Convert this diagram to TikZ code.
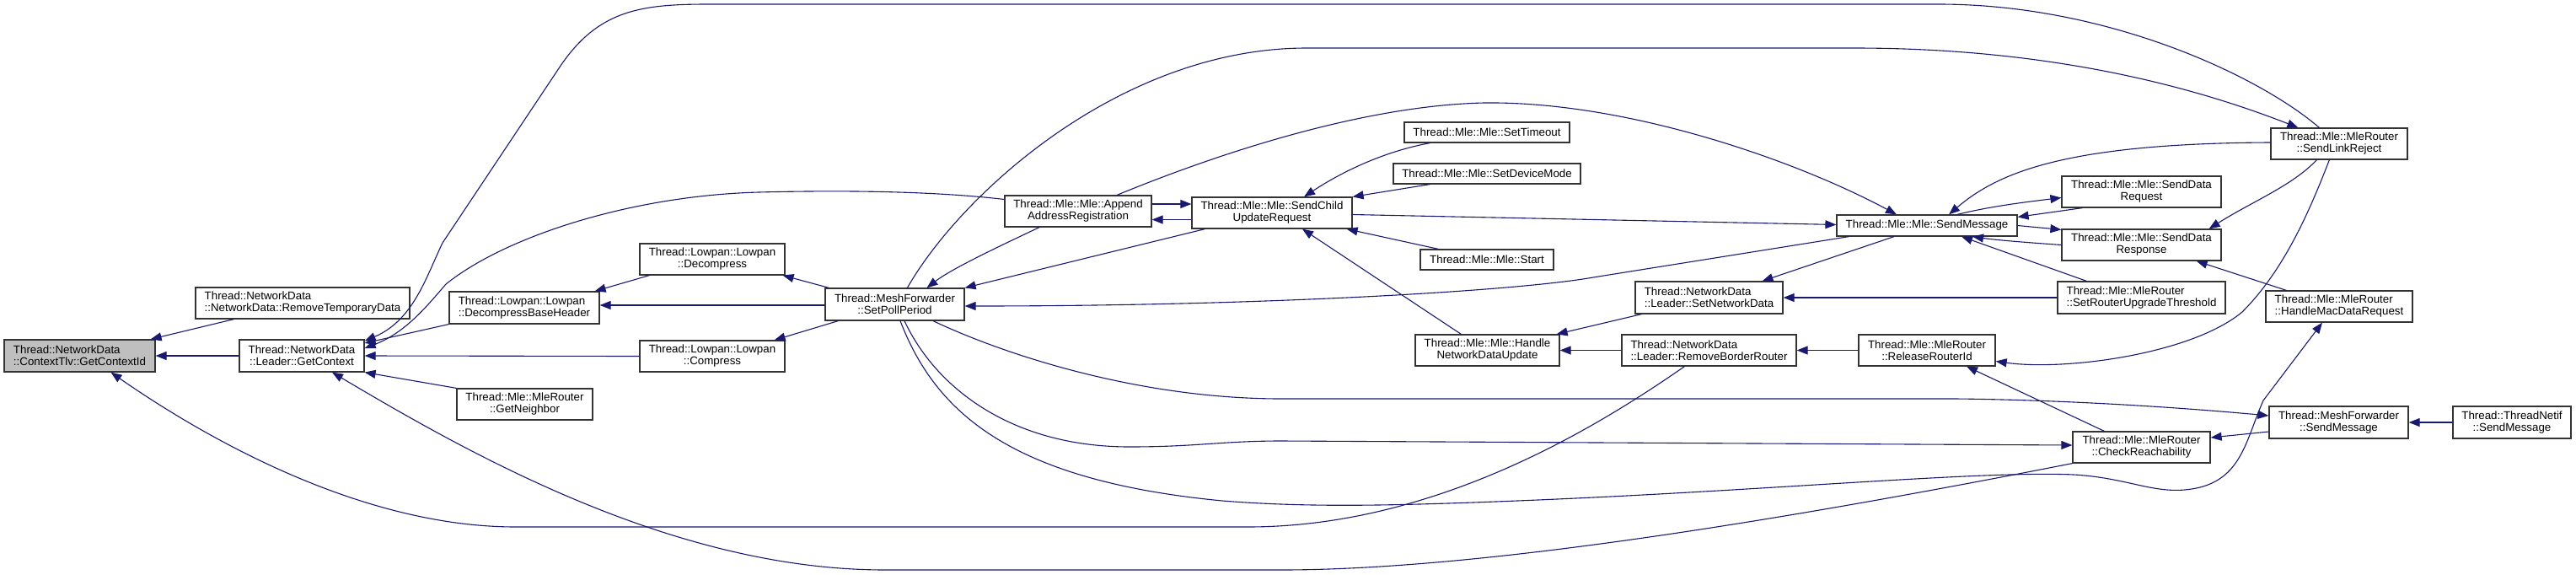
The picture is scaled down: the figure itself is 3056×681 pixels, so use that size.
\documentclass[tikz,border=0pt]{standalone}
\usepackage{fontspec}
\setmainfont{Liberation Sans}
\usetikzlibrary{arrows.meta,calc}
\definecolor{mblue}{HTML}{191970}
\begin{document}
\begin{tikzpicture}[x=1pt,y=-1pt,
  box/.style={draw=black!80, line width=1.2pt, fill=white, inner sep=0pt, minimum height=38pt, align=center, font=\fontsize{13.33}{14}\selectfont},
  onebox/.style={box, minimum height=25pt},
  e/.style={draw=mblue, line width=1.1pt, {Triangle[length=13pt,width=10pt]}-},
  er/.style={draw=mblue, line width=1.1pt, -{Triangle[length=13pt,width=10pt]}}]
\useasboundingbox (0,0) rectangle (3056,681);

% nodes
\node[box, minimum width=179pt, fill=black!25, align=left] (ctx) at (94.5,422) {Thread::NetworkData\\::ContextTlv::GetContextId};
\node[box, minimum width=254pt, minimum height=37pt, align=left] (rtd) at (359,359.5) {Thread::NetworkData\\::NetworkData::RemoveTemporaryData};
\node[box, minimum width=148pt] (gc) at (358,422) {Thread::NetworkData\\::Leader::GetContext};
\node[box, minimum width=178pt, align=left] (dbh) at (622,365) {Thread::Lowpan::Lowpan\\::DecompressBaseHeader};
\node[box, minimum width=172pt, minimum height=37pt] (dec) at (845,307.5) {Thread::Lowpan::Lowpan\\::Decompress};
\node[box, minimum width=172pt, minimum height=37pt] (cmp) at (845,422.5) {Thread::Lowpan::Lowpan\\::Compress};
\node[box, minimum width=161pt, minimum height=37pt] (gn) at (622.5,479.5) {Thread::Mle::MleRouter\\::GetNeighbor};
\node[box, minimum width=165pt] (spp) at (1061.5,361) {Thread::MeshForwarder\\::SetPollPeriod};
\node[box, minimum width=174pt, minimum height=37pt] (aar) at (1279,250.5) {Thread::Mle::Mle::Append\\AddressRegistration};
\node[box, minimum width=190pt, minimum height=37pt] (scur) at (1509,252.5) {Thread::Mle::Mle::SendChild\\UpdateRequest};
\node[onebox, minimum width=196pt, minimum height=24pt] (sto) at (1764,157) {Thread::Mle::Mle::SetTimeout};
\node[onebox, minimum width=222pt, minimum height=24pt] (sdm) at (1764,206) {Thread::Mle::Mle::SetDeviceMode};
\node[onebox, minimum width=158pt, minimum height=24pt] (st) at (1764,308) {Thread::Mle::Mle::Start};
\node[box, minimum width=171pt, minimum height=37pt] (hndu) at (1764.5,415.5) {Thread::Mle::Mle::Handle\\NetworkDataUpdate};
\node[box, minimum width=175pt, align=left] (snd) at (2027.5,353) {Thread::NetworkData\\::Leader::SetNetworkData};
\node[box, minimum width=207pt, minimum height=37pt, align=left] (rbr) at (2027.5,415.5) {Thread::NetworkData\\::Leader::RemoveBorderRouter};
\node[onebox, minimum width=214pt] (sm) at (2286,267.5) {Thread::Mle::Mle::SendMessage};
\node[box, minimum width=162pt, minimum height=37pt] (rri) at (2286,415.5) {Thread::Mle::MleRouter\\::ReleaseRouterId};
\node[box, minimum width=189pt, minimum height=37pt] (sdrq) at (2540.5,227.5) {Thread::Mle::Mle::SendData\\Request};
\node[box, minimum width=189pt, minimum height=37pt] (sdrs) at (2540.5,290.5) {Thread::Mle::Mle::SendData\\Response};
\node[box, minimum width=199pt, align=left] (srut) at (2540.5,353) {Thread::Mle::MleRouter\\::SetRouterUpgradeThreshold};
\node[box, minimum width=163pt, minimum height=37pt] (cr) at (2540.5,530.5) {Thread::Mle::MleRouter\\::CheckReachability};
\node[box, minimum width=162pt, minimum height=37pt] (slr) at (2775,170.5) {Thread::Mle::MleRouter\\::SendLinkReject};
\node[box, minimum width=174pt, minimum height=37pt, align=left] (hmdr) at (2775,363.5) {Thread::Mle::MleRouter\\::HandleMacDataRequest};
\node[box, minimum width=165pt] (mfsm) at (2774.5,501) {Thread::MeshForwarder\\::SendMessage};
\node[box, minimum width=140pt] (tnsm) at (2980,501) {Thread::ThreadNetif\\::SendMessage};

% edges
\draw[e] ($(ctx.north east)+(-6,0)$) -- ($(rtd.south west)+(46,0)$);
\draw[e] (ctx.east) -- (gc.west);
\draw[e] ($(ctx.south)+(37,0)$) .. controls (230,510) and (420,625) .. (612,625) -- (1480,625) .. controls (1700,625) and (1890,510) .. ($(rbr.south west)+(75,0)$);
\draw[e] ($(gc.south)+(36,0)$) .. controls (560,540) and (800,676) .. (1050,676) -- (1520,676) .. controls (1750,676) and (2100,620) .. (cr.south west);
\draw[e] ($(gc.east)+(0,-15)$) -- (dbh.south west);
\draw[e] ($(gc.east)+(0,-9)$) .. controls (480,395) and (505,365) .. (529,337) .. controls (600,280) and (750,232) .. (900,228) .. controls (1020,225) and (1120,228) .. ($(aar.west)+(0,-14)$);
\draw[e] ($(gc.north east)+(0,2)$) .. controls (490,380) and (505,330) .. (525,288) -- (665,78) .. controls (710,12) and (760,5) .. (840,5) -- (2300,5) .. controls (2500,5) and (2680,90) .. ($(slr.north west)+(58,0)$);
\draw[e] (gc.east) -- (cmp.west);
\draw[e] (gc.south east) -- (gn.north west);
\draw[e] ($(dbh.north east)+(-6,0)$) -- ($(dec.south west)+(12,0)$);
\draw[e] ($(dbh.east)+(0,-3)$) -- ($(spp.west)+(0,1)$);
\draw[e] ($(dec.south east)+(-3,0)$) -- ($(spp.north west)+(5,0)$);
\draw[e] ($(cmp.north east)+(-13,0)$) -- ($(spp.south west)+(16,0)$);
\draw[e] ($(spp.north)+(38,0)$) .. controls (1130,318) and (1190,290) .. ($(aar.south)+(-46,0)$);
\draw[e] (spp.north east) -- ($(scur.south west)+(16,0)$);
\draw[e] ($(spp.east)+(0,2)$) .. controls (1500,363) and (1800,345) .. (1890,329) -- ($(sm.south west)+(15,0)$);
\draw[er] ($(aar.east)+(0,-8.5)$) -- ($(scur.west)+(0,-10.5)$);
\draw[e] ($(aar.east)+(0,10)$) -- ($(scur.west)+(0,8)$);
\draw[e] ($(scur.north)+(38,0)$) .. controls (1590,205) and (1640,180) .. ($(sto.south west)+(31,0)$);
\draw[e] (scur.north east) -- ($(sdm.south west)+(44,0)$);
\draw[e] ($(scur.south east)+(-7,0)$) -- ($(st.north west)+(22,0)$);
\draw[e] ($(scur.south)+(36,0)$) -- ($(hndu.north west)+(55,0)$);
\draw[er] ($(scur.east)+(0,2)$) -- ($(sm.west)+(0,-1)$);
\draw[er] ($(aar.north)+(46,0)$) .. controls (1450,180) and (1620,125) .. (1761,122) .. controls (1930,120) and (2130,190) .. ($(sm.north)+(-36,0)$);
\draw[er] ($(spp.north west)+(98,0)$) .. controls (1140,230) and (1330,57) .. (1550,57) -- (2200,57) .. controls (2450,57) and (2620,110) .. ($(slr.north west)+(33,0)$);
\draw[e] ($(snd.north)+(63,0)$) -- ($(sm.south)+(-39,0)$);
\draw[e] (snd.east) -- (srut.west);
\draw[e] ($(hndu.north east)+(-4,0)$) -- ($(snd.south west)+(8,0)$);
\draw[e] (hndu.east) -- (rbr.west);
\draw[e] (rbr.east) -- (rri.west);
\draw[er] ($(sm.north)+(36,0)$) .. controls (2360,245) and (2400,240) .. ($(sdrq.west)+(0,7)$);
\draw[e] ($(sm.north east)+(0,3)$) -- ($(sdrq.south west)+(25,0)$);
\draw[er] (sm.east) -- ($(sdrs.north west)+(0,1)$);
\draw[e] ($(sm.south)+(54,0)$) .. controls (2370,285) and (2410,288) .. (sdrs.west);
\draw[e] ($(sm.south)+(41,0)$) -- ($(srut.north west)+(35,0)$);
\draw[e] ($(sm.north)+(26,0)$) .. controls (2370,205) and (2450,170) .. ($(slr.west)+(0,-1.5)$);
\draw[e] ($(sdrs.north east)+(-15,0)$) .. controls (2670,240) and (2720,220) .. ($(slr.south west)+(55,0)$);
\draw[e] ($(sdrs.south east)+(-30,0)$) -- ($(hmdr.north west)+(25,0)$);
\draw[e] ($(rri.east)+(0,13)$) .. controls (2450,440) and (2600,420) .. (2660,370) .. controls (2710,320) and (2740,250) .. ($(slr.south west)+(70,0)$);
\draw[e] ($(rri.south)+(47,0)$) -- ($(cr.north west)+(38,0)$);
\draw[e] ($(cr.east)+(0,-11.5)$) -- ($(mfsm.west)+(0,11)$);
\draw[e] (mfsm.east) -- (tnsm.west);
\draw[er] ($(spp.south)+(45.5,0)$) .. controls (1190,420) and (1350,473) .. (1520,473) -- (2320,473) .. controls (2420,474) and (2550,480) .. ($(mfsm.west)+(0,-8)$);
\draw[er] ($(spp.south)+(11.5,0)$) .. controls (1110,460) and (1200,530) .. (1340,530) .. controls (1420,530) and (1450,523) .. (1520,523) -- ($(cr.west)+(0,-2.5)$);
\draw[er] ($(spp.south)+(6.5,0)$) .. controls (1110,490) and (1200,570) .. (1450,594) .. controls (1550,602) and (1650,600) .. (1800,594) .. controls (2100,582) and (2350,558) .. (2460,563) .. controls (2530,567) and (2560,590) .. (2610,578) .. controls (2660,565) and (2665,520) .. (2685,475) -- ($(hmdr.south)+(-20,0)$);
\end{tikzpicture}
\end{document}
